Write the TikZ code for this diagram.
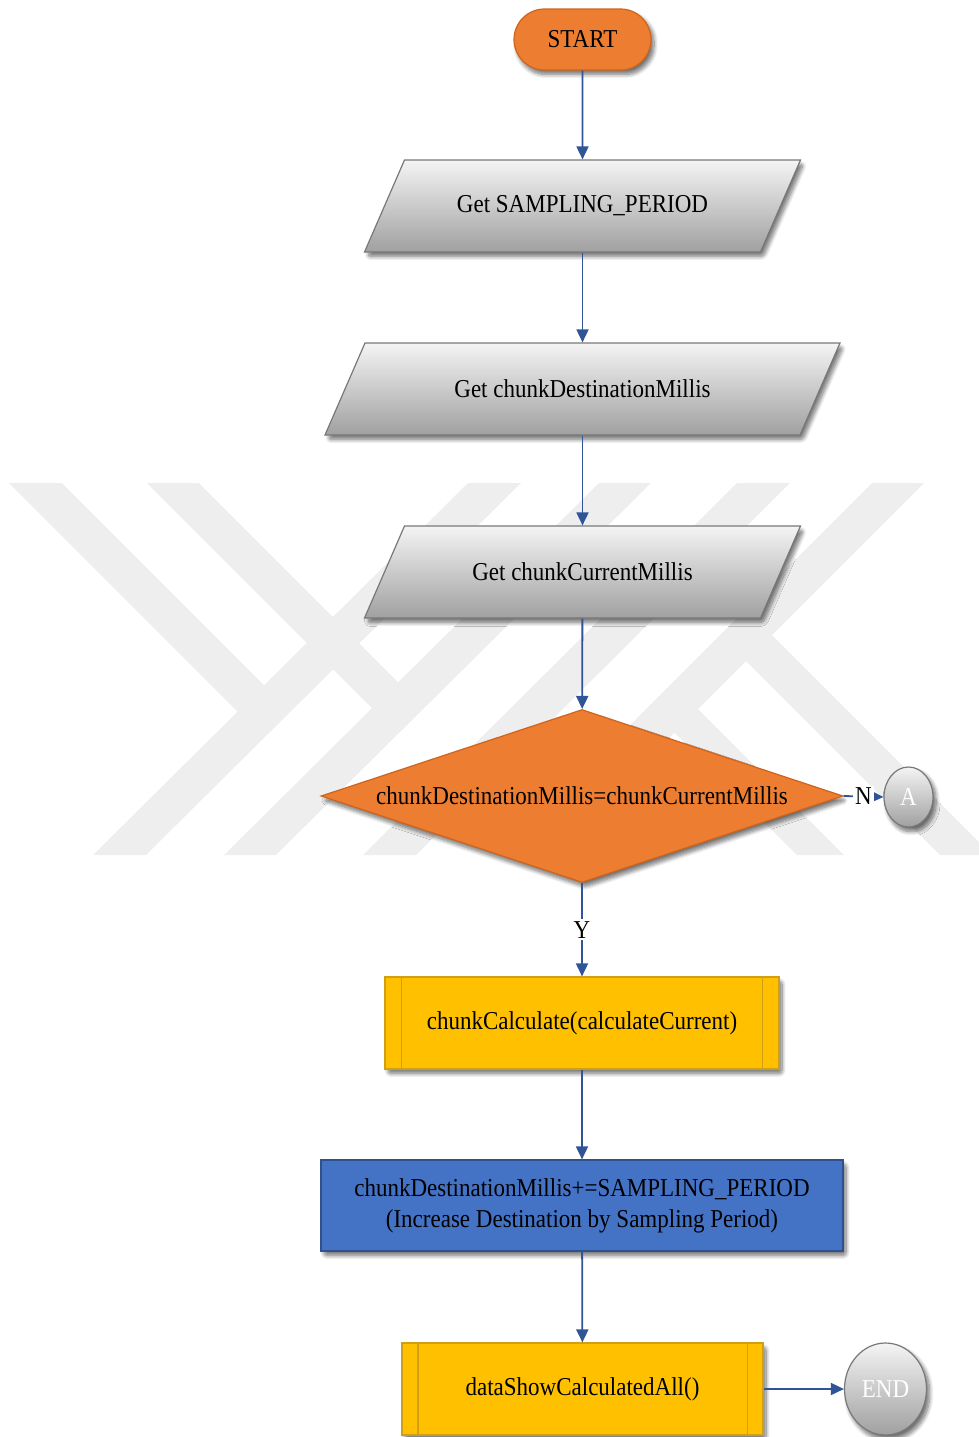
\documentclass[tikz,border=0pt]{standalone}
\usepackage{fontspec}
\usepackage{graphicx}
\setmainfont{Liberation Serif}
\usetikzlibrary{arrows.meta,shapes.geometric,shapes.misc,shadows.blur}
\definecolor{orangeF}{RGB}{237,125,49}
\definecolor{orangeD}{RGB}{205,100,30}
\definecolor{goldF}{RGB}{255,192,0}
\definecolor{goldD}{RGB}{208,160,20}
\definecolor{blueF}{RGB}{68,114,196}
\definecolor{blueD}{RGB}{47,82,143}
\definecolor{arrowC}{RGB}{47,85,151}
\definecolor{grayD}{RGB}{120,120,120}
\definecolor{grayT}{RGB}{244,244,244}
\definecolor{grayB}{RGB}{160,160,160}
\definecolor{wm}{RGB}{238,238,238}
\newcommand{\vs}[1]{\scalebox{1}[1.12]{#1}}
\tikzset{
  base/.style={font=\fontsize{11.5}{14}\selectfont, text=black, inner sep=0pt, line width=0.6pt},
  shad/.style={blur shadow={shadow xshift=1.5pt, shadow yshift=-2.2pt, shadow blur radius=2pt, shadow blur steps=8, shadow blur extra rounding=1.5pt, shadow opacity=55}},
  term/.style={base, shad, rounded rectangle, fill=orangeF, draw=orangeD, minimum width=68.5pt, minimum height=30.5pt},
  io/.style={base, rectangle, minimum width=198pt, minimum height=46pt},
  ioshape/.style={shad, top color=grayT, bottom color=grayB, draw=grayD, line width=0.6pt},
  dec/.style={base, shad, diamond, aspect=3, fill=orangeF, draw=orangeD, minimum width=261pt, minimum height=86.5pt},
  proc/.style={base, shad, rectangle, fill=goldF, draw=goldD, minimum height=46pt},
  bluebox/.style={base, shad, rectangle, fill=blueF, draw=blueD, minimum width=261pt, minimum height=45.5pt},
  circ/.style={base, shad, ellipse, top color=grayT, bottom color=grayB, draw=grayD, text=white},
  conn/.style={draw=arrowC, line width=0.9pt, -{Triangle[length=6.5pt,width=6pt]}},
  lbl/.style={base, fill=white, inner sep=1pt},
  inner/.style={draw=goldD, line width=0.6pt}
}
\begin{document}
\begin{tikzpicture}[x=0.5pt,y=-0.5pt]
\useasboundingbox (0,0) rectangle (979,1437);
% watermark
\begin{scope}
  \clip (0,483) rectangle (979,855);
  \fill[wm] (9,483) -- (62,483) -- (279.5,700.5) -- (253,727) -- cycle;
  \fill[wm] (147,483) -- (199,483) -- (412.75,696.75) -- (386.75,722.75) -- cycle;
  \fill[wm] (468,483) -- (521,483) -- (146,855) -- (93,855) -- cycle;
  \fill[wm] (599,483) -- (651,483) -- (276,855) -- (224,855) -- cycle;
  \fill[wm] (737,483) -- (790,483) -- (416,855) -- (363,855) -- cycle;
  \fill[wm] (872,483) -- (924,483) -- (552,855) -- (500,855) -- cycle;
  \fill[wm] (661.5,719.5) -- (685,696) -- (844,855) -- (797,855) -- cycle;
  \fill[wm] (733,648) -- (759,622) -- (992,855) -- (940,855) -- cycle;
\end{scope}
% parallelogram shapes of the input nodes (drawn first, text nodes on top)
\foreach \cx/\cy/\hw in {582.5/206/198, 582.5/389/237.5, 582.5/572/198}
  \path[ioshape] (\cx-\hw+20,\cy-46) -- (\cx+\hw+20,\cy-46)
    -- (\cx+\hw-20,\cy+46) -- (\cx-\hw-20,\cy+46) -- cycle;
% nodes
\node[term] (start) at (582.5,39.5) {\vs{START}};
\node[io] (p1) at (582.5,206) {\vs{Get SAMPLING\_PERIOD}};
\node[io, minimum width=237.5pt] (p2) at (582.5,389) {\vs{Get chunkDestinationMillis}};
\node[io] (p3) at (582.5,572) {\vs{Get chunkCurrentMillis}};
\node[dec] (dia) at (582,796) {\vs{chunkDestinationMillis=chunkCurrentMillis}};
\node[circ, minimum width=24.5pt, minimum height=30pt] (A) at (908.5,797) {\vs{A}};
\node[proc, minimum width=197pt] (c1) at (582,1023) {\vs{chunkCalculate(calculateCurrent)}};
\node[bluebox] (b1) at (582,1205.5) {\vs{\begin{tabular}{@{}c@{}}chunkDestinationMillis+=SAMPLING\_PERIOD\\(Increase Destination by Sampling Period)\end{tabular}}};
\node[proc, minimum width=180.5pt] (c2) at (582.5,1389) {\vs{dataShowCalculatedAll()}};
\node[circ, minimum width=41pt, minimum height=46pt] (end) at (885.5,1389) {\vs{END}};
% inner lines of predefined process boxes
\draw[inner] ([xshift=8.5pt]c1.north west) -- ([xshift=8.5pt]c1.south west);
\draw[inner] ([xshift=-8.5pt]c1.north east) -- ([xshift=-8.5pt]c1.south east);
\draw[inner] ([xshift=8.25pt]c2.north west) -- ([xshift=8.25pt]c2.south west);
\draw[inner] ([xshift=-8.25pt]c2.north east) -- ([xshift=-8.25pt]c2.south east);
% connectors
\draw[conn] (start) -- (p1);
\draw[conn] (p1) -- (p2);
\draw[conn] (p2) -- (p3);
\draw[conn] (p3) -- (dia);
\draw[conn] (dia.east) -- node[lbl] {\vs{N}} (A.west);
\draw[conn] (dia.south) -- node[lbl] {\vs{Y}} (c1.north);
\draw[conn] (c1) -- (b1);
\draw[conn] (b1) -- (c2);
\draw[conn] (c2.east) -- (end.west);
\end{tikzpicture}
\end{document}
